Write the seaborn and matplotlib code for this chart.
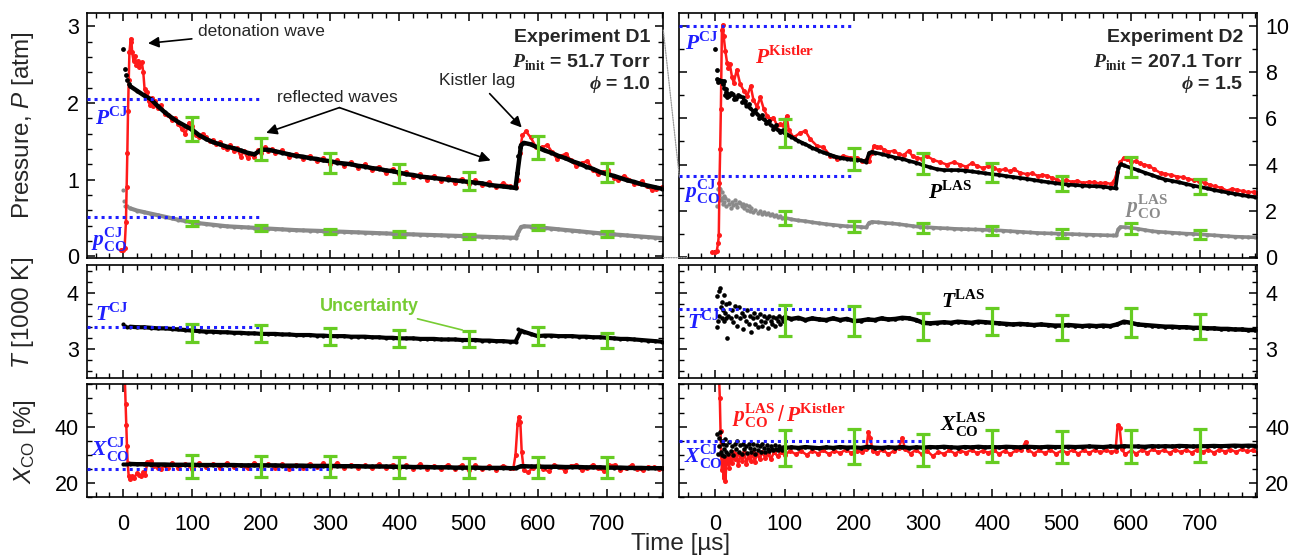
import numpy as np
import pandas as pd
import matplotlib
matplotlib.use("Agg")
import matplotlib.pyplot as plt
import seaborn as sns
from matplotlib.ticker import MultipleLocator
from matplotlib.patches import ConnectionPatch

# ======================= DATA =======================
# ---- Experiment D1 (left column) ----
d1_t = list(range(10, 570, 10)) + [568, 576, 580] + list(range(590, 790, 10))
d1_p_las = [2.22, 2.16, 2.10, 2.05, 1.96, 1.88, 1.81, 1.75, 1.70, 1.65,
            1.58, 1.53, 1.49, 1.46, 1.43, 1.41, 1.38, 1.35, 1.33, 1.39,
            1.39, 1.37, 1.35, 1.33, 1.31, 1.30, 1.28, 1.27, 1.25, 1.24,
            1.22, 1.21, 1.20, 1.18, 1.17, 1.15, 1.14, 1.12, 1.11, 1.09,
            1.07, 1.06, 1.04, 1.03, 1.02, 1.01, 1.00, 0.99, 0.98, 0.97,
            0.96, 0.95, 0.93, 0.92, 0.91, 0.90,
            0.89, 1.45, 1.48,
            1.46, 1.42, 1.38, 1.35, 1.31, 1.28, 1.24, 1.21, 1.17, 1.14,
            1.10, 1.07, 1.05, 1.02, 0.99, 0.97, 0.94, 0.92, 0.90, 0.88]
d1_p_las_dots_t = [0, 2, 4, 6, 8, 570, 572, 574]
d1_p_las_dots = [2.70, 2.45, 2.36, 2.30, 2.25, 1.08, 1.31, 1.42]

d1_pco = [0.625, 0.595, 0.575, 0.555, 0.535, 0.515, 0.495, 0.475, 0.46, 0.44,
          0.43, 0.42, 0.41, 0.40, 0.39, 0.385, 0.38, 0.375, 0.37, 0.365,
          0.36, 0.355, 0.35, 0.345, 0.34, 0.337, 0.334, 0.331, 0.328, 0.325,
          0.321, 0.318, 0.314, 0.311, 0.307, 0.304, 0.30, 0.297, 0.293, 0.29,
          0.287, 0.284, 0.281, 0.278, 0.275, 0.272, 0.269, 0.266, 0.263, 0.26,
          0.257, 0.254, 0.251, 0.248, 0.245, 0.242,
          0.24, 0.38, 0.39,
          0.386, 0.378, 0.369, 0.36, 0.351, 0.342, 0.334, 0.325, 0.316, 0.307,
          0.299, 0.29, 0.284, 0.277, 0.27, 0.263, 0.256, 0.249, 0.242, 0.235]
d1_pco_dots_t = [0, 1, 3, 5, 570, 572]
d1_pco_dots = [0.87, 0.72, 0.66, 0.65, 0.27, 0.33]

d1_T = [3.40, 3.39, 3.39, 3.38, 3.37, 3.37, 3.36, 3.35, 3.34, 3.33,
        3.32, 3.31, 3.31, 3.30, 3.30, 3.29, 3.29, 3.28, 3.28, 3.27,
        3.27, 3.27, 3.26, 3.26, 3.25, 3.25, 3.25, 3.24, 3.24, 3.23,
        3.23, 3.23, 3.22, 3.22, 3.22, 3.21, 3.21, 3.20, 3.20, 3.19,
        3.19, 3.19, 3.18, 3.18, 3.18, 3.17, 3.17, 3.17, 3.16, 3.16,
        3.16, 3.15, 3.15, 3.14, 3.14, 3.13,
        3.13, 3.33, 3.31,
        3.27, 3.23, 3.24, 3.24, 3.23, 3.23, 3.23, 3.22, 3.22, 3.21,
        3.21, 3.20, 3.19, 3.18, 3.18, 3.17, 3.16, 3.15, 3.14, 3.13]
d1_T_dots_t = [0, 2, 5, 572]
d1_T_dots = [3.44, 3.41, 3.40, 3.35]

d1_X = [26.8, 26.7, 26.7, 26.6, 26.6, 26.6, 26.5, 26.5, 26.5, 26.5,
        26.4, 26.4, 26.4, 26.4, 26.4, 26.4, 26.3, 26.3, 26.3, 26.3,
        26.3, 26.3, 26.2, 26.2, 26.2, 26.2, 26.1, 26.1, 26.1, 26.1,
        26.0, 26.0, 26.0, 26.0, 25.9, 25.9, 25.9, 25.9, 25.8, 25.8,
        25.8, 25.7, 25.7, 25.7, 25.6, 25.6, 25.6, 25.5, 25.5, 25.5,
        25.5, 25.4, 25.4, 25.4, 25.4, 25.3,
        25.3, 26.0, 26.0,
        25.9, 25.9, 25.8, 25.8, 25.8, 25.7, 25.7, 25.7, 25.6, 25.6,
        25.6, 25.5, 25.5, 25.5, 25.4, 25.4, 25.4, 25.3, 25.3, 25.3]
d1_X_dots_t = [0, 3, 6]
d1_X_dots = [26.9, 26.8, 26.8]

d1_kis_t = ([-3, 0, 2, 4, 5, 6, 7, 8, 9, 11, 12, 13, 15, 17, 19, 21, 23, 25, 27, 29,
             31, 33, 35, 37, 39, 41, 43, 46, 50, 55, 60, 65, 70, 75, 80, 85, 90, 95,
             100, 105, 110, 115, 120, 125, 130, 135, 140, 145, 150, 155, 160, 165,
             170, 175, 180, 185, 190, 195, 200, 205, 210, 215, 220]
            + list(range(230, 570, 10))
            + [568, 571, 574, 578, 583, 590, 598, 606, 614, 621, 628, 634, 641, 648,
               656, 664, 672, 680, 688, 695, 702, 710, 717, 725, 733, 740, 745, 751,
               758, 765, 772, 780])
d1_kis = ([0.08, 0.08, 0.10, 0.45, 0.90, 1.35, 1.90, 2.30, 2.66, 2.84, 2.80, 2.66, 2.55,
           2.62, 2.49, 2.55, 2.47, 2.52, 2.53, 2.41, 2.18, 2.12, 2.15, 2.02, 1.98, 2.06,
           1.96, 2.02, 1.93, 1.97, 1.86, 1.85, 1.78, 1.80, 1.72, 1.66, 1.60, 1.74, 1.70,
           1.58, 1.56, 1.60, 1.55, 1.50, 1.52, 1.46, 1.49, 1.42, 1.40, 1.45, 1.37, 1.41,
           1.30, 1.37, 1.28, 1.34, 1.30, 1.38, 1.35, 1.42, 1.37, 1.40, 1.35]
          + [1.38, 1.30, 1.34, 1.27, 1.31, 1.24, 1.28, 1.21, 1.25, 1.18, 1.23, 1.15,
             1.20, 1.12, 1.17, 1.09, 1.14, 1.07, 1.10, 1.03, 1.07, 1.00, 1.05, 0.98,
             1.03, 0.96, 1.01, 0.94, 0.99, 0.93, 0.97, 0.90, 0.95, 0.91]
          + [0.90, 1.00, 1.35, 1.58, 1.63, 1.55, 1.42, 1.42, 1.45, 1.36, 1.27, 1.31,
             1.34, 1.25, 1.18, 1.22, 1.24, 1.13, 1.07, 1.10, 1.12, 1.02, 1.00, 1.05,
             1.00, 0.94, 0.95, 0.98, 0.92, 0.87, 0.88, 0.90])

d1_xkis_t = ([2, 3.5, 4.5, 5.5, 6.5, 8, 10, 13, 16, 20, 23, 26, 29, 32, 35, 40, 45, 50,
              55, 60, 65]
             + list(range(70, 570, 10))
             + [565, 568, 571, 573, 575, 577, 580, 586, 593, 600, 608, 616, 624, 632,
                640, 648, 656, 664, 672, 680, 688, 696, 704, 712, 720, 728, 736, 744,
                752, 760, 768, 776, 782])
d1_xkis = ([60, 48, 40.5, 33, 27, 22.5, 21.5, 22.5, 22, 23.5, 22.8, 22.5, 23.8, 23,
            27.5, 27.8, 26.2, 25.5, 25, 26.5, 25.2]
           + [27.2, 25.4, 26.8, 25.0, 27.0, 25.6, 26.9, 25.5, 27.2, 25.8,
              26.6, 25.2, 27.3, 25.6, 26.9, 25.3, 26.8, 24.9, 26.5, 25.5,
              26.9, 25.6, 27.0, 25.3, 27.2, 25.4, 26.6, 25.3, 26.4, 25.2,
              26.8, 25.4, 26.6, 25.2, 26.3, 25.1, 26.8, 25.0, 26.2, 24.9,
              26.6, 25.0, 26.4, 24.6, 26.3, 24.9, 26.1, 24.8, 26.2, 25.3]
           + [25.5, 30, 41, 43.5, 41.5, 31, 24.5, 23.8, 25.5, 26.4, 25.0, 24.2, 26.5,
              25.8, 24.3, 26.2, 26.4, 24.5, 25.3, 26.6, 25.2, 24.4, 26.3, 26.5, 24.8,
              25.2, 26.4, 25.0, 24.6, 25.8, 25.6, 24.9, 25.2])

# ---- Experiment D2 (right column) ----
d2_plas_t = (list(range(20, 220, 5)) + [218, 222, 226] + list(range(230, 580, 10))
             + [578, 582, 586] + list(range(590, 790, 10)))
d2_plas = ([6.95, 7.05, 6.85, 6.95, 6.90, 6.55, 6.45, 6.30, 6.20, 6.05,
            5.95, 5.85, 5.70, 5.62, 5.50, 5.45, 5.35, 5.28, 5.20, 5.10,
            5.02, 4.95, 4.88, 4.80, 4.72, 4.66, 4.60, 4.53, 4.48, 4.43,
            4.38, 4.33, 4.30, 4.27, 4.24, 4.22, 4.20, 4.20, 4.18, 4.15]
           + [4.12, 4.50, 4.55]
           + [4.52, 4.45, 4.38, 4.30, 4.25, 4.15, 4.08, 3.97, 3.88, 3.80,
              3.76, 3.76, 3.76, 3.74, 3.70, 3.66, 3.62, 3.58, 3.55, 3.50,
              3.46, 3.42, 3.38, 3.33, 3.28, 3.24, 3.20, 3.16, 3.13, 3.11,
              3.09, 3.07, 3.06, 3.04, 3.00]
           + [2.97, 3.85, 4.02]
           + [3.96, 3.86, 3.76, 3.65, 3.55, 3.44, 3.35, 3.29, 3.23, 3.16,
              3.09, 3.03, 2.97, 2.90, 2.84, 2.79, 2.73, 2.68, 2.63, 2.59])
d2_plas_dots_t = [0, 2, 3, 4, 6, 8, 10, 11, 12, 13, 14, 15, 16, 17, 18,
                  22, 27, 33, 38, 43, 48, 53, 58, 63, 68, 73, 78, 83, 88, 93, 98]
d2_plas_dots = [8.98, 8.1, 7.7, 7.55, 7.65, 7.6, 7.62, 7.5, 7.3, 7.6, 7.0, 7.25, 7.15,
                6.9, 7.05, 7.1, 6.85, 7.0, 6.7, 6.75, 6.6, 6.2, 6.35, 6.0, 6.15, 5.8,
                5.9, 5.55, 5.7, 5.4, 5.5]

d2_kis_t = [-5, 0, 2, 4, 5, 6, 7, 8, 9.5, 11, 12, 14.5, 17, 19, 21, 24, 26.5, 31, 36,
            41, 46, 51, 55, 60, 65, 70, 75, 79, 84, 89, 94, 98, 103, 106, 113, 123,
            130, 137, 147, 156, 166, 176, 185, 195, 204, 212, 218, 222, 226, 229, 234,
            238, 244, 250, 258, 265, 272, 279, 285, 291, 298, 305, 315, 325, 334, 344,
            354, 362, 370, 378, 386, 394, 402, 410, 418, 426, 431, 440, 450, 458, 466,
            472, 479, 486, 493, 499, 507, 515, 523, 531, 539, 547, 555, 563, 571, 576,
            580, 585, 590, 595, 600, 607, 613, 619, 626, 634, 643, 650, 658, 667, 675,
            683, 691, 699, 707, 715, 722, 730, 739, 746, 754, 762, 770, 778, 782]
d2_kis = [0.2, 0.2, 0.25, 0.6, 0.93, 3.2, 4.67, 6.4, 9.84, 10.05, 9.55, 8.9, 8.4, 8.19,
          8.33, 7.8, 7.54, 8.1, 7.47, 7.2, 6.97, 7.4, 6.8, 6.5, 6.9, 6.4, 6.1, 5.96,
          6.03, 5.7, 5.75, 5.7, 6.1, 5.5, 5.17, 5.38, 5.45, 5.1, 4.8, 4.75, 4.38, 4.24,
          4.38, 4.3, 4.3, 4.17, 4.2, 4.15, 4.5, 4.81, 4.75, 4.74, 4.65, 4.55, 4.6, 4.45,
          4.4, 4.6, 4.35, 4.3, 4.25, 4.38, 4.2, 4.1, 4.0, 4.1, 4.0, 3.9, 4.05, 3.95,
          3.85, 3.92, 3.85, 3.75, 3.8, 3.7, 3.8, 3.65, 3.58, 3.62, 3.5, 3.55, 3.52,
          3.42, 3.35, 3.23, 3.32, 3.25, 3.3, 3.2, 3.25, 3.23, 3.18, 3.22, 3.16, 3.3,
          3.66, 4.1, 4.3, 4.25, 4.1, 4.15, 4.05, 4.0, 3.95, 3.8, 3.63, 3.6, 3.55, 3.48,
          3.45, 3.38, 3.33, 3.27, 3.2, 3.12, 3.05, 3.0, 2.87, 2.95, 2.9, 2.85, 2.8,
          2.82, 2.78]

d2_pco_t = ([2, 4, 5, 6, 7, 8, 9, 10, 11, 12, 13, 14, 16, 18, 20, 22, 24, 26, 28, 30,
             32, 34, 36, 38, 40, 42, 44, 46, 48, 50, 52, 55, 58, 61, 64, 67, 70, 73,
             76, 79, 82, 85, 88, 91, 94, 97]
            + list(range(100, 220, 10)) + [218, 222, 226] + list(range(235, 585, 10))
            + [579, 582, 585, 592] + list(range(600, 790, 10)))
d2_pco = ([2.22, 2.95, 3.0, 2.7, 2.95, 2.45, 2.8, 2.55, 2.3, 2.65, 2.4, 2.55, 2.2,
           2.45, 2.3, 2.1, 2.4, 2.25, 2.45, 2.3, 2.15, 2.4, 2.35, 2.2, 2.3, 2.1, 2.25,
           2.05, 2.2, 2.0, 2.12, 1.95, 2.05, 1.92, 2.0, 1.88, 1.95, 1.85, 1.9, 1.8,
           1.86, 1.78, 1.82, 1.72, 1.76, 1.68]
          + [1.70, 1.63, 1.58, 1.55, 1.50, 1.46, 1.42, 1.39, 1.36, 1.33, 1.32, 1.30]
          + [1.28, 1.48, 1.52]
          + [1.50, 1.47, 1.45, 1.42, 1.38, 1.34, 1.30, 1.29, 1.27, 1.25, 1.24, 1.22,
             1.21, 1.20, 1.19, 1.18, 1.17, 1.16, 1.14, 1.12, 1.10, 1.08, 1.06, 1.04,
             1.03, 1.02, 1.01, 1.00, 0.99, 0.98, 0.97, 0.96, 0.95, 0.94, 0.93]
          + [0.93, 1.20, 1.30, 1.29]
          + [1.26, 1.22, 1.17, 1.12, 1.09, 1.07, 1.05, 1.03, 1.01, 1.00, 0.98, 0.96,
             0.94, 0.92, 0.90, 0.88, 0.87, 0.86, 0.85])

d2_T_t = ([2, 3, 4, 5, 6, 7, 8, 9, 10, 11, 12, 13, 14, 15, 16, 17, 18]
          + list(range(20, 102, 2)) + list(range(110, 790, 10)))
d2_T = ([3.39, 3.95, 3.5, 4.04, 3.6, 4.1, 3.75, 3.55, 3.85, 3.7, 3.5, 3.97, 3.65,
         3.55, 3.8, 3.2, 3.6]
        + [3.82, 3.55, 3.7, 3.48, 3.78, 3.6, 3.42, 3.75, 3.55, 3.65, 3.35, 3.6, 3.5,
           3.7, 3.45, 3.6, 3.3, 3.55, 3.65, 3.45, 3.58, 3.4, 3.62, 3.5, 3.42, 3.6,
           3.48, 3.55, 3.38, 3.6, 3.5, 3.45, 3.58, 3.42, 3.55, 3.5, 3.6, 3.45, 3.55,
           3.5, 3.57]
        + [3.54, 3.56, 3.52, 3.55, 3.53, 3.52, 3.55, 3.52, 3.54, 3.50,
           3.51, 3.53, 3.52, 3.55, 3.53, 3.54, 3.56, 3.55, 3.52, 3.47,
           3.46, 3.47, 3.48, 3.47, 3.49, 3.48, 3.47, 3.49, 3.48, 3.47,
           3.46, 3.45, 3.44, 3.45, 3.44, 3.43, 3.44, 3.43, 3.42, 3.42,
           3.43, 3.42, 3.41, 3.42, 3.41, 3.42, 3.41, 3.44, 3.49, 3.47,
           3.44, 3.43, 3.42, 3.41, 3.40, 3.40, 3.39, 3.39, 3.38, 3.38,
           3.37, 3.37, 3.36, 3.36, 3.35, 3.35, 3.34, 3.34])

d2_X_t = (list(range(3, 17)) + [18] + list(range(20, 102, 2)) + list(range(110, 790, 10)))
d2_X = ([37.5, 30.5, 36, 33, 38, 31, 35, 30, 34, 32, 29.5, 35.5, 31, 33.5]
        + [30.5]
        + [34.5, 31.5, 33, 30, 34, 32, 35, 31, 33.5, 30.5, 34, 32, 33, 30.8, 33.8,
           32.5, 31, 34, 32.2, 30.5, 33.5, 31.8, 33, 31, 33.8, 32.5, 31.2, 33.5, 32,
           31.5, 33.2, 32, 31.8, 33.5, 32.2, 31.6, 33, 32.5, 31.8, 32.8, 32.5]
        + [32.7, 32.5, 32.8, 32.6, 32.4, 32.7, 32.5, 32.8, 32.6, 32.7,
           32.5, 32.9, 32.6, 32.5, 32.7, 32.6, 32.8, 32.5, 32.7, 32.6,
           32.8, 32.7, 32.9, 32.7, 32.6, 32.8, 32.7, 32.9, 32.7, 32.8,
           32.7, 32.9, 32.8, 32.7, 32.9, 32.8, 32.7, 32.9, 32.8, 32.8,
           32.9, 32.8, 32.9, 33.0, 32.9, 32.8, 33.0, 32.9, 33.1, 33.0,
           33.0, 32.9, 33.1, 33.0, 33.1, 33.0, 33.2, 33.1, 33.0, 33.1,
           33.1, 33.2, 33.1, 33.2, 33.3, 33.2, 33.3, 33.2])

d2_xkis_t = ([5, 6.5, 7.5, 8.5, 9.5, 11, 12, 13, 14.5, 16, 18, 20, 22, 24, 26, 28, 30,
              33, 36, 39, 42, 45, 48, 51, 54, 57, 60, 64, 68, 72, 76, 80, 85, 90, 95, 100]
             + list(range(108, 220, 8)) + [218, 221, 224, 227] + list(range(234, 266, 8))
             + [265, 270, 274] + list(range(282, 442, 8)) + [442, 448, 452]
             + list(range(460, 580, 8)) + [578, 581, 584, 587, 592]
             + list(range(600, 790, 8)))
d2_xkis = ([60, 50, 38.6, 30, 24.5, 28, 22, 29, 20.9, 27, 29.5, 25.5, 30, 27, 31, 28.5,
            30.5, 26.5, 30, 28, 31, 26.8, 29.5, 28, 31, 27.5, 30.5, 28.5, 31, 29, 30.5,
            28.5, 31, 29.5, 31.2, 29.8]
           + [31.5, 30.2, 31.4, 30.0, 31.5, 30.5, 31.6, 30.3, 31.5, 30.6, 31.8, 30.8,
              31.5, 31.0]
           + [32, 38.2, 36, 31.5]
           + [30.8, 31.8, 30.2, 31.5]
           + [32.5, 36.1, 32]
           + [30.5, 31.8, 30.2, 31.4, 29.6, 31.0, 30.4, 31.6, 30.5, 31.5, 30.8, 31.8,
              30.6, 31.5, 30.8, 31.6, 30.4, 31.5, 30.3, 31.6]
           + [31.8, 34.7, 31.8]
           + [30.5, 31.6, 30.6, 31.8, 30.4, 31.5, 30.8, 31.7, 30.5, 31.6, 30.7, 31.8,
              30.9, 31.6, 31.0]
           + [31.5, 40.6, 39.5, 32, 30.2]
           + [31.5, 30.5, 31.8, 30.8, 32.0, 30.9, 31.8, 30.6, 31.9, 31.0, 31.8, 30.8,
              31.9, 31.2, 31.8, 30.8, 31.9, 31.2, 31.9, 31.0, 32.0, 31.3, 31.6, 30.8])

# ---- uncertainty bars ----
err_t = [100, 200, 300, 400, 500, 600, 700]
d1_p_err_c = [1.66, 1.40, 1.22, 1.08, 0.98, 1.42, 1.09]
d1_p_err = [0.155, 0.146, 0.133, 0.12, 0.114, 0.146, 0.124]
d1_pco_err_c = [0.43, 0.37, 0.325, 0.29, 0.26, 0.375, 0.29]
d1_pco_err = [0.035, 0.035, 0.035, 0.035, 0.035, 0.035, 0.035]
d1_T_err_c = [3.285, 3.28, 3.22, 3.185, 3.18, 3.23, 3.15]
d1_T_err = [0.165, 0.155, 0.15, 0.15, 0.15, 0.16, 0.14]
d1_X_err_c = [26.0, 25.9, 25.9, 25.7, 25.5, 25.6, 25.6]
d1_X_err = [4.0, 3.8, 3.8, 3.7, 3.5, 3.6, 3.7]
d2_p_err_c = [5.37, 4.24, 4.04, 3.66, 3.18, 3.88, 3.05]
d2_p_err = [0.59, 0.46, 0.45, 0.40, 0.34, 0.43, 0.32]
d2_pco_err_c = [1.69, 1.33, 1.25, 1.16, 1.02, 1.23, 0.98]
d2_pco_err = [0.30, 0.23, 0.22, 0.20, 0.20, 0.23, 0.20]
d2_T_err_c = [3.515, 3.51, 3.40, 3.49, 3.39, 3.47, 3.41]
d2_T_err = [0.275, 0.27, 0.245, 0.245, 0.225, 0.26, 0.225]
d2_X_err_c = [32.4, 32.9, 31.8, 33.1, 32.8, 33.0, 33.4]
d2_X_err = [6.5, 6.1, 5.6, 5.7, 5.7, 5.9, 5.8]

# ---- CJ reference values ----
cj_short_t = [-52, 200]
cj_long_t = [-52, 300]
d1_cj = {"P": 2.05, "pco": 0.51, "T": 3.40, "X": 25.0}
d2_cj = {"P": 10.0, "pco": 3.52, "T": 3.72, "X": 35.0}

# ======================= STYLE =======================
sns.set_theme(style="ticks")
plt.rcParams.update({
    "font.family": ["Liberation Sans", "DejaVu Sans"],
    "mathtext.fontset": "custom",
    "mathtext.rm": "Liberation Sans",
    "mathtext.it": "Liberation Sans:italic",
    "mathtext.bf": "Liberation Serif:bold",
    "mathtext.bfit": "Liberation Serif:italic:bold",
    "axes.linewidth": 1.2,
    "axes.edgecolor": "black",
})

RED = "#ff1a1a"
GRAY = "#8a8a8a"
GREEN = "#66cc22"
BLUE = "#1f1fff"
XLIM = (-52, 782)

fig = plt.figure(figsize=(12.91, 5.58), dpi=100)
L0, LW = 0.0676, 0.4462
R0, RW = 0.5262, 0.4473
rows = [(0.5382, 0.4391), (0.3220, 0.2030), (0.1088, 0.2025)]
axes = [[fig.add_axes([L0, b, LW, h]), fig.add_axes([R0, b, RW, h])] for b, h in rows]
(ax_p1, ax_p2), (ax_t1, ax_t2), (ax_x1, ax_x2) = axes


def style(ax, ylim, ymaj, ymin, right=False, xlabels=False):
    ax.set_xlim(*XLIM)
    ax.set_ylim(*ylim)
    ax.xaxis.set_major_locator(MultipleLocator(100))
    ax.xaxis.set_minor_locator(MultipleLocator(20))
    ax.yaxis.set_major_locator(MultipleLocator(ymaj))
    ax.yaxis.set_minor_locator(MultipleLocator(ymin))
    ax.tick_params(which="both", direction="in", top=True, bottom=True,
                   left=True, right=True, colors="black", labelsize=15.5)
    ax.tick_params(which="major", length=6, width=1.1)
    ax.tick_params(which="minor", length=3.5, width=1.0)
    ax.tick_params(axis="x", pad=12, labelbottom=xlabels)
    ax.tick_params(axis="y", pad=6, labelleft=not right, labelright=right)
    ax.set_xlabel("")
    ax.set_ylabel("")
    for s in ax.spines.values():
        s.set_linewidth(1.2)
        s.set_color("black")


def black_line(ax, t, v, lw=3.4, s=9, line=True):
    if line:
        sns.lineplot(x=t, y=v, ax=ax, color="black", linewidth=lw, estimator=None,
                     sort=False, zorder=3)
    sns.scatterplot(x=t, y=v, ax=ax, color="black", s=s, linewidth=0, zorder=3)


def red_line(ax, t, v, lw=1.8, ms=3.6):
    sns.lineplot(x=t, y=v, ax=ax, color=RED, linewidth=lw, estimator=None, sort=False,
                 marker="o", markersize=ms, markeredgewidth=0, zorder=2.5)


def gray_line(ax, t, v, lw=3.0, s=9, line=True):
    if line:
        sns.lineplot(x=t, y=v, ax=ax, color=GRAY, linewidth=lw, estimator=None,
                     sort=False, zorder=2)
    sns.scatterplot(x=t, y=v, ax=ax, color=GRAY, s=s, linewidth=0, zorder=2)


def cj(ax, t, v):
    sns.lineplot(x=t, y=[v, v], ax=ax, color=BLUE, linewidth=2.2, linestyle=(0, (1, 1.3)),
                 estimator=None, sort=False, zorder=4)


def ebar(ax, c, e):
    ax.errorbar(err_t, c, yerr=e, fmt="none", ecolor=GREEN, elinewidth=2.3,
                capsize=4.7, capthick=2.3, zorder=5)


def split(t, v, t0):
    early = [(a, b) for a, b in zip(t, v) if a < t0]
    late = [(a, b) for a, b in zip(t, v) if a >= t0]
    return [a for a, _ in early], [b for _, b in early], [a for a, _ in late], [b for _, b in late]


# ---------------- D1 pressure ----------------
gray_line(ax_p1, d1_t, d1_pco)
gray_line(ax_p1, d1_pco_dots_t, d1_pco_dots, line=False)
red_line(ax_p1, d1_kis_t, d1_kis)
black_line(ax_p1, d1_t, d1_p_las, lw=3.2)
black_line(ax_p1, d1_p_las_dots_t, d1_p_las_dots, line=False, s=12)
cj(ax_p1, cj_short_t, d1_cj["P"])
cj(ax_p1, cj_short_t, d1_cj["pco"])
ebar(ax_p1, d1_p_err_c, d1_p_err)
ebar(ax_p1, d1_pco_err_c, d1_pco_err)
style(ax_p1, (-0.02, 3.18), 1, 0.2)

# ---------------- D2 pressure ----------------
et, ev, lt, lv = split(d2_pco_t, d2_pco, 100)
gray_line(ax_p2, et, ev, line=False, s=10)
gray_line(ax_p2, lt, lv, lw=2.6)
red_line(ax_p2, d2_kis_t, d2_kis, lw=1.8)
black_line(ax_p2, d2_plas_t, d2_plas, lw=2.6)
black_line(ax_p2, d2_plas_dots_t, d2_plas_dots, line=False, s=12)
cj(ax_p2, cj_short_t, d2_cj["P"])
cj(ax_p2, cj_short_t, d2_cj["pco"])
ebar(ax_p2, d2_p_err_c, d2_p_err)
ebar(ax_p2, d2_pco_err_c, d2_pco_err)
style(ax_p2, (-0.03, 10.57), 2, 1, right=True)

# ---------------- D1 temperature ----------------
black_line(ax_t1, d1_t, d1_T, lw=3.0)
black_line(ax_t1, d1_T_dots_t, d1_T_dots, line=False)
cj(ax_t1, cj_short_t, d1_cj["T"])
ebar(ax_t1, d1_T_err_c, d1_T_err)
style(ax_t1, (2.47, 4.51), 1, 0.2)

# ---------------- D2 temperature ----------------
et, ev, lt, lv = split(d2_T_t, d2_T, 100)
black_line(ax_t2, et, ev, line=False, s=11)
black_line(ax_t2, lt, lv, lw=3.2, s=11)
cj(ax_t2, cj_short_t, d2_cj["T"])
ebar(ax_t2, d2_T_err_c, d2_T_err)
style(ax_t2, (2.47, 4.51), 1, 0.2, right=True)

# ---------------- D1 mole fraction ----------------
cj(ax_x1, cj_long_t, d1_cj["X"])
red_line(ax_x1, d1_xkis_t, d1_xkis, lw=1.8)
black_line(ax_x1, d1_t, d1_X, lw=3.2)
black_line(ax_x1, d1_X_dots_t, d1_X_dots, line=False)
ebar(ax_x1, d1_X_err_c, d1_X_err)
style(ax_x1, (15, 55), 20, 5, xlabels=True)

# ---------------- D2 mole fraction ----------------
red_line(ax_x2, d2_xkis_t, d2_xkis, lw=1.8)
et, ev, lt, lv = split(d2_X_t, d2_X, 100)
black_line(ax_x2, et, ev, line=False, s=11)
black_line(ax_x2, lt, lv, lw=3.0, s=11)
cj(ax_x2, cj_long_t, d2_cj["X"])
ebar(ax_x2, d2_X_err_c, d2_X_err)
style(ax_x2, (15, 55), 20, 5, right=True, xlabels=True)

# ======================= TEXT =======================
arrow = dict(arrowstyle="-|>", color="black", lw=1.2, mutation_scale=16,
             shrinkA=2, shrinkB=0)
ax_p1.annotate("detonation wave", xy=(36, 2.78), xytext=(200, 2.93),
               ha="center", va="center", fontsize=12.5, arrowprops=arrow, zorder=6)
ax_p1.text(310, 2.07, "reflected waves", ha="center", va="center", fontsize=12.5, zorder=6)
ax_p1.annotate("", xy=(207, 1.61), xytext=(313, 1.94), arrowprops=dict(arrow, shrinkA=0))
ax_p1.annotate("", xy=(532, 1.25), xytext=(313, 1.94), arrowprops=dict(arrow, shrinkA=0))
ax_p1.annotate("Kistler lag", xy=(577, 1.68), xytext=(513, 2.29),
               ha="center", va="center", fontsize=12.5, arrowprops=arrow, zorder=6)

for ax, name, pinit, phi in [(ax_p1, "Experiment D1", "51.7", "1.0"),
                             (ax_p2, "Experiment D2", "207.1", "1.5")]:
    xr = 0.978 if ax is ax_p1 else 0.976
    ax.text(xr, 0.90, name, transform=ax.transAxes, ha="right", va="center",
            fontsize=14, fontweight="bold")
    ax.text(xr, 0.80, r"$\mathbfit{P}_{\mathbf{init}}$ = " + pinit + " Torr",
            transform=ax.transAxes, ha="right", va="center", fontsize=14,
            fontweight="bold")
    ax.text(xr, 0.705, r"$\mathbfit{\phi}$ = " + phi, transform=ax.transAxes,
            ha="right", va="center", fontsize=14, fontweight="bold")


def lab(ax, x, y, s, color, fs=15.5):
    ax.text(x, y, s, transform=ax.transAxes, ha="left", va="center", color=color,
            fontsize=fs, zorder=7)


lab(ax_p1, 0.013, 0.57, r"$\mathbfit{P}^{\mathbf{CJ}}$", BLUE)
lab(ax_p1, 0.006, 0.075, r"$\mathbfit{p}_{\mathbf{CO}}^{\mathbf{CJ}}$", BLUE)
lab(ax_p2, 0.010, 0.876, r"$\mathbfit{P}^{\mathbf{CJ}}$", BLUE)
lab(ax_p2, 0.008, 0.268, r"$\mathbfit{p}_{\mathbf{CO}}^{\mathbf{CJ}}$", BLUE)
lab(ax_p2, 0.131, 0.815, r"$\mathbfit{P}^{\mathbf{Kistler}}$", RED)
lab(ax_p2, 0.431, 0.264, r"$\mathbfit{P}^{\mathbf{LAS}}$", "black")
lab(ax_p2, 0.772, 0.207, r"$\mathbfit{p}_{\mathbf{CO}}^{\mathbf{LAS}}$", GRAY)
lab(ax_t1, 0.013, 0.567, r"$\mathbfit{T}^{\mathbf{CJ}}$", BLUE)
lab(ax_t2, 0.013, 0.497, r"$\mathbfit{T}^{\mathbf{CJ}}$", BLUE)
lab(ax_t2, 0.454, 0.68, r"$\mathbfit{T}^{\mathbf{LAS}}$", "black")
lab(ax_x1, 0.007, 0.42, r"$\mathbfit{X}_{\mathbf{CO}}^{\mathbf{CJ}}$", BLUE)
lab(ax_x2, 0.008, 0.357, r"$\mathbfit{X}_{\mathbf{CO}}^{\mathbf{CJ}}$", BLUE)
lab(ax_x2, 0.451, 0.643, r"$\mathbfit{X}_{\mathbf{CO}}^{\mathbf{LAS}}$", "black")
lab(ax_x2, 0.091, 0.72,
    r"$\mathbfit{p}_{\mathbf{CO}}^{\mathbf{LAS}}\,/\,\mathbfit{P}^{\mathbf{Kistler}}$", RED)

ax_t1.annotate("Uncertainty", xy=(491, 3.34), xytext=(356, 3.76), ha="center",
               va="center", fontsize=13, fontweight="bold", color="#77cc33",
               arrowprops=dict(arrowstyle="-", color="#77cc33", lw=1.2, shrinkA=1,
                               shrinkB=0), zorder=6)

# axis titles
fig.text(0.018, 0.776, "Pressure, $P$ [atm]", rotation=90, ha="center", va="center",
         fontsize=17.5)
fig.text(0.018, 0.439, "$T$ [1000 K]", rotation=90, ha="center", va="center",
         fontsize=17.5)
fig.text(0.019, 0.208, r"$X_{\mathrm{CO}}$ [%]", rotation=90, ha="center", va="center",
         fontsize=17.5)
fig.text(0.527, 0.025, "Time [µs]", ha="center", va="center", fontsize=17.5)

# zoom connectors between the two pressure panels
for xyA, xyB in [((1, 0.929), (0, 0.33)), ((1, 0.0), (0.014, 0.0))]:
    con = ConnectionPatch(xyA=xyA, coordsA=ax_p1.transAxes, xyB=xyB,
                          coordsB=ax_p2.transAxes, color="#999999", lw=0.9,
                          linestyle=(0, (1, 1)))
    fig.add_artist(con)

fig.savefig("out.png", dpi=100)
